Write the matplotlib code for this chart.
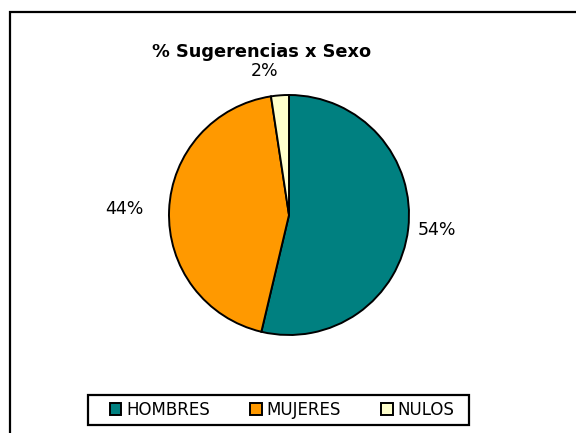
import numpy as np
import matplotlib.pyplot as plt
from matplotlib.patches import Rectangle

# values (shares of the pie)
categories = ['HOMBRES', 'MUJERES', 'NULOS']
shares = [53.7, 43.9, 2.4]
shown_pct = ['54%', '44%', '2%']
colors = ['#008080', '#FF9900', '#FFFFCC']

W, H = 576, 433
fig = plt.figure(figsize=(W / 100, H / 100), dpi=100)
fig.patch.set_facecolor('white')

# outer chart border (runs off the right and bottom edge)
fig.patches.append(Rectangle((10 / W, -0.05), 1.0, 1 - 12 / H + 0.05,
                             transform=fig.transFigure, fill=False,
                             edgecolor='black', linewidth=1.6))

cx, cy, r = 289, 215, 120
ax = fig.add_axes([(cx - r) / W, (H - cy - r) / H, 2 * r / W, 2 * r / H])
wedges, texts = ax.pie(shares, labels=shown_pct, colors=colors,
                       startangle=90, counterclock=False,
                       labeldistance=1.13,
                       wedgeprops=dict(edgecolor='black', linewidth=1.4),
                       textprops=dict(fontsize=12.5))
ax.set_xlim(-1, 1)
ax.set_ylim(-1, 1)
ax.set_aspect('equal')

# nudge labels a bit like the original
for t, w in zip(texts, wedges):
    ang = np.deg2rad((w.theta1 + w.theta2) / 2)
    if t.get_text() == '44%':
        d = 1.21
    elif t.get_text() == '54%':
        d = 1.08
    else:
        d = 1.2
    t.set_position((d * np.cos(ang), d * np.sin(ang)))

fig.text(262 / W, 1 - 52 / H, '% Sugerencias x Sexo', ha='center', va='center',
         fontsize=12.8, fontweight='bold')

# legend box drawn on its own so the inner padding matches
fig.patches.append(Rectangle((88 / W, 1 - 425 / H), (469 - 88) / W, 30 / H,
                             transform=fig.transFigure, fill=False,
                             edgecolor='black', linewidth=1.6))
leg = fig.legend(wedges, categories, loc='center', ncol=3,
                 bbox_to_anchor=(282 / W, 1 - 410 / H), fontsize=12,
                 frameon=False, handlelength=0.7, handleheight=0.7,
                 handletextpad=0.3, columnspacing=2.4, borderpad=0,
                 borderaxespad=0)

fig.savefig('out.png', dpi=100)
